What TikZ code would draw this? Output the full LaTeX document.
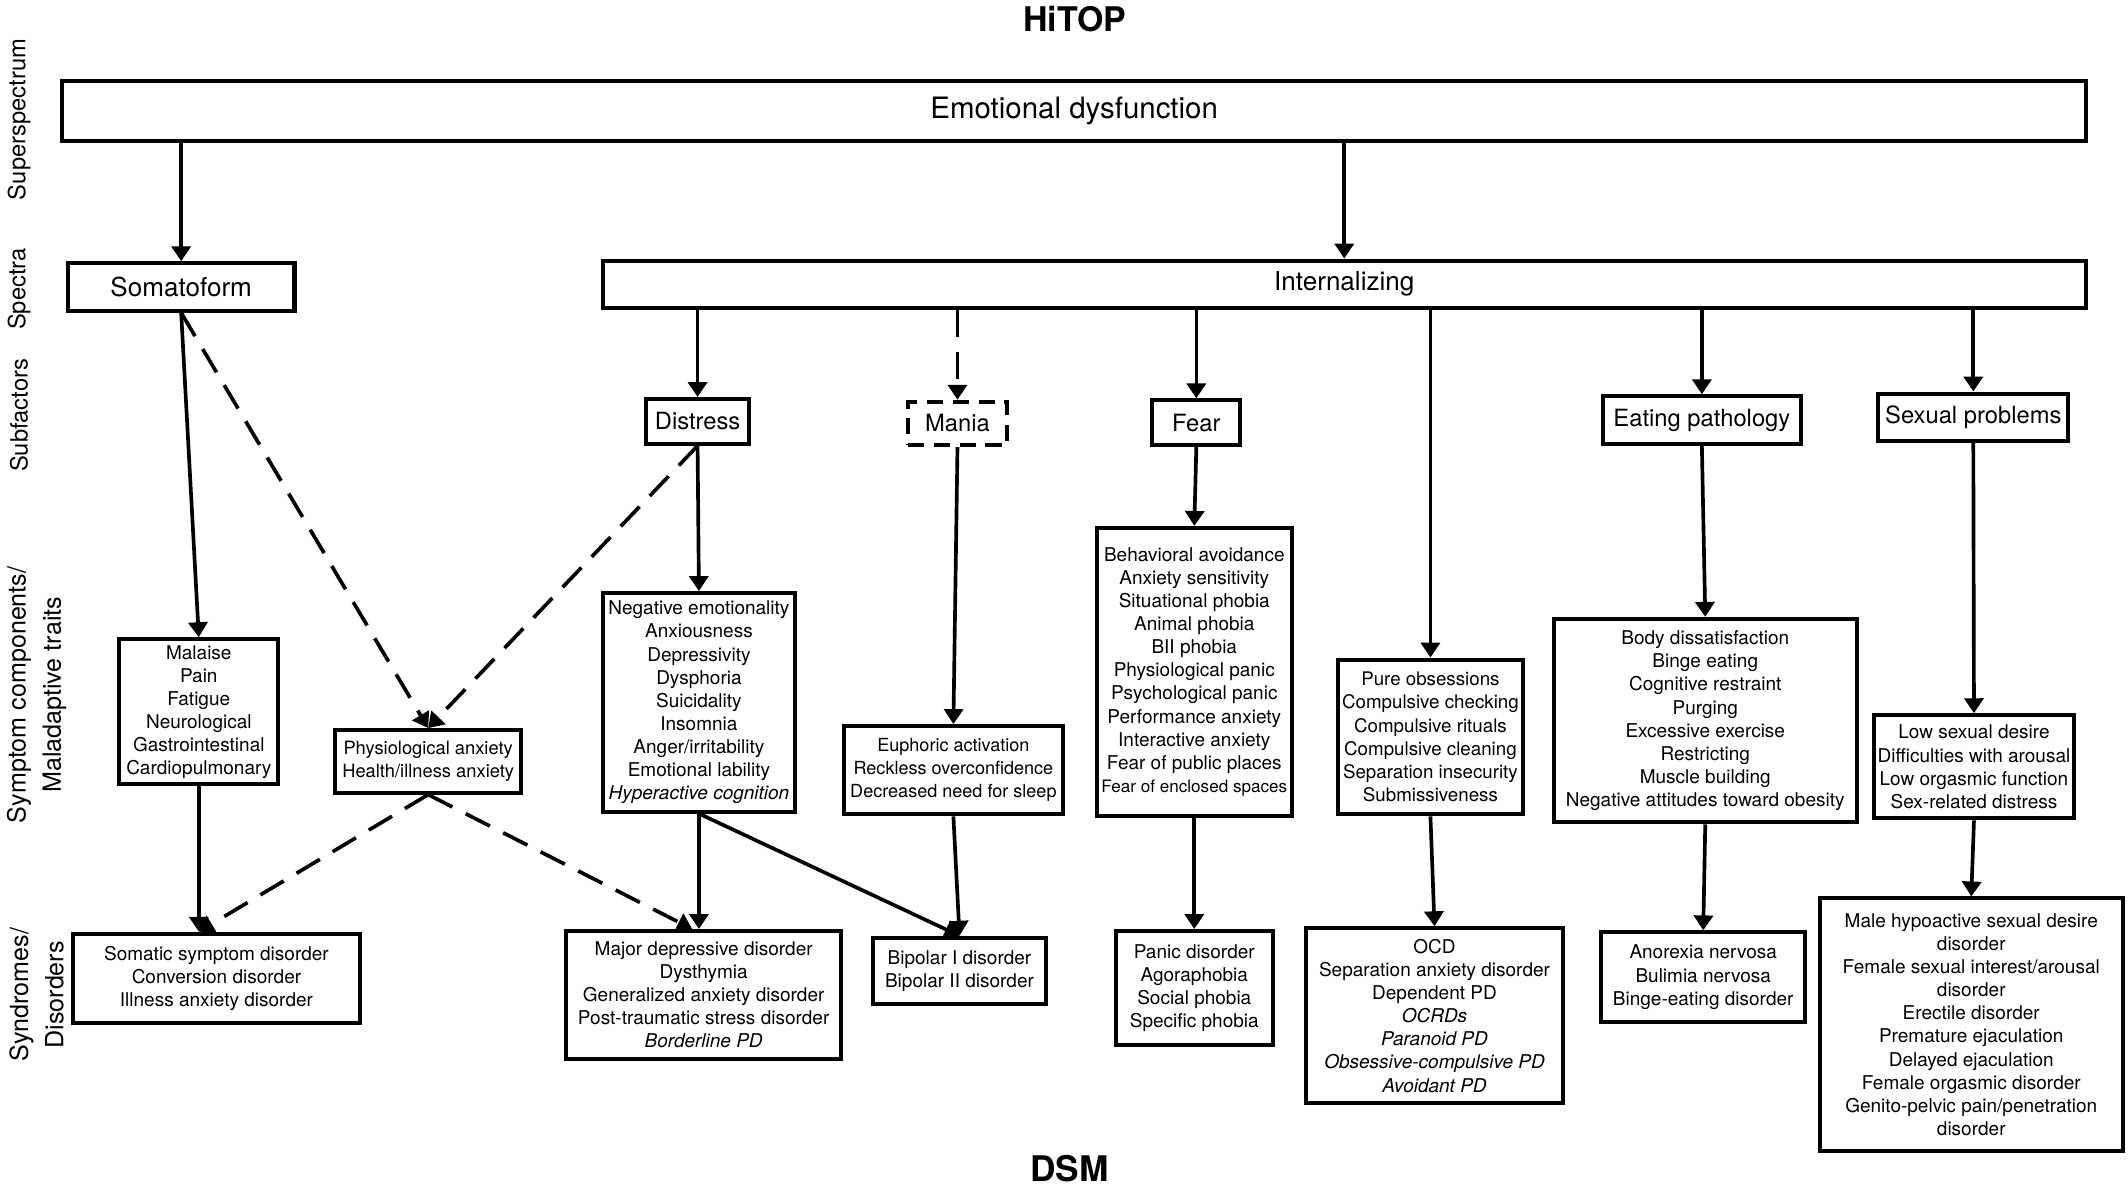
\documentclass[tikz,border=0pt]{standalone}
\usepackage{fontspec}
\setmainfont{TeX Gyre Heros}
\usetikzlibrary{arrows.meta}
\tikzset{
  box/.style={draw, line width=3pt, inner sep=0pt, align=center, font=\fontsize{14}{17}\selectfont},
  conn/.style={line width=2.7pt, -{Triangle[width=14pt,length=11pt]}},
  dconn/.style={conn, dash pattern=on 20pt off 11pt},
  lvl/.style={rotate=90, align=center, font=\fontsize{17.5}{26}\selectfont},
  lvlb/.style={lvl, font=\fontsize{18.5}{26}\selectfont},
  ttl/.style={font=\bfseries\fontsize{25}{28}\selectfont},
  sub/.style={font=\fontsize{17.5}{20}\selectfont},
}
\begin{document}
\begin{tikzpicture}[x=1pt,y=-1pt]
\useasboundingbox (0,0) rectangle (1568,876);
% titles
\node[ttl] (hitop) at (792,14) {HiTOP};
\node[ttl, font=\bfseries\fontsize{26}{28}\selectfont] (dsm) at (788,861) {DSM};
% level labels
\node[lvl] (l1) at (14,88) {Superspectrum};
\node[lvl] (l2) at (14,213) {Spectra};
\node[lvl] (l3) at (14,306) {Subfactors};
\node[lvlb] (l4) at (27,512) {Symptom components/\\Maladaptive traits};
\node[lvlb] (l5) at (27,733) {Syndromes/\\Disorders};
% superspectrum / spectra
\node[box, minimum width=1491pt, minimum height=44pt, font=\fontsize{21.7}{24}\selectfont] (ed) at (791.5,82) {Emotional dysfunction};
\node[box, minimum width=167pt, minimum height=35pt, font=\fontsize{19.2}{22}\selectfont] (soma) at (133.5,211.5) {Somatoform};
\node[box, minimum width=1093pt, minimum height=35pt, font=\fontsize{19.2}{22}\selectfont] (intern) at (990.5,209.5) {Internalizing};
% subfactors
\node[box, sub, minimum width=76pt, minimum height=33pt] (distress) at (514,310.5) {Distress};
\node[box, sub, minimum width=73pt, minimum height=32pt, dash pattern=on 12pt off 7pt] (mania) at (705.5,312) {Mania};
\node[box, sub, minimum width=65pt, minimum height=33pt] (fear) at (881.5,311.5) {Fear};
\node[box, sub, minimum width=146pt, minimum height=35pt] (eat) at (1254,309.5) {Eating pathology};
\node[box, sub, minimum width=140pt, minimum height=35pt] (sex) at (1454,307.5) {Sexual problems};
% symptom components
\node[box, minimum width=117pt, minimum height=107pt] (malaise) at (146.5,524.5) {Malaise\\Pain\\Fatigue\\Neurological\\Gastrointestinal\\Cardiopulmonary};
\node[box, minimum width=137pt, minimum height=46pt, font=\fontsize{13.5}{17}\selectfont] (phys) at (315.5,561) {Physiological anxiety\\Health/illness anxiety};
\node[box, minimum width=142pt, minimum height=161pt] (neg) at (515,517.5) {Negative emotionality\\Anxiousness\\Depressivity\\Dysphoria\\Suicidality\\Insomnia\\Anger/irritability\\Emotional lability\\\textit{Hyperactive cognition}};
\node[box, minimum width=161pt, minimum height=65pt, font=\fontsize{13.3}{17}\selectfont] (euph) at (702.5,567.5) {Euphoric activation\\Reckless overconfidence\\Decreased need for sleep};
\node[box, minimum width=144pt, minimum height=212pt] (fearbox) at (880,495) {Behavioral avoidance\\Anxiety sensitivity\\Situational phobia\\Animal phobia\\BII phobia\\Physiological panic\\Psychological panic\\Performance anxiety\\Interactive anxiety\\Fear of public places\\{\fontsize{12.6}{17}\selectfont Fear of enclosed spaces}};
\node[box, minimum width=136pt, minimum height=114pt, font=\fontsize{13.8}{17}\selectfont] (pure) at (1054,543) {Pure obsessions\\Compulsive checking\\Compulsive rituals\\Compulsive cleaning\\Separation insecurity\\Submissiveness};
\node[box, minimum width=223pt, minimum height=150pt] (body) at (1256.5,531) {Body dissatisfaction\\Binge eating\\Cognitive restraint\\Purging\\Excessive exercise\\Restricting\\Muscle building\\Negative attitudes toward obesity};
\node[box, minimum width=147pt, minimum height=76pt] (low) at (1454.5,565) {Low sexual desire\\Difficulties with arousal\\Low orgasmic function\\Sex-related distress};
% disorders
\node[box, minimum width=211pt, minimum height=66pt] (somatic) at (159.5,721) {Somatic symptom disorder\\Conversion disorder\\Illness anxiety disorder};
\node[box, minimum width=203pt, minimum height=94pt] (mdd) at (518.5,733) {Major depressive disorder\\Dysthymia\\Generalized anxiety disorder\\Post-traumatic stress disorder\\\textit{Borderline PD}};
\node[box, minimum width=128pt, minimum height=49pt] (bip) at (707,715.5) {Bipolar I disorder\\Bipolar II disorder};
\node[box, minimum width=116pt, minimum height=84pt] (panic) at (880,728) {Panic disorder\\Agoraphobia\\Social phobia\\Specific phobia};
\node[box, minimum width=190pt, minimum height=129pt] (ocd) at (1057,748.5) {OCD\\Separation anxiety disorder\\Dependent PD\\\textit{OCRDs}\\\textit{Paranoid PD}\\\textit{Obsessive-compulsive PD}\\\textit{Avoidant PD}};
\node[box, minimum width=150pt, minimum height=66pt] (anor) at (1255,720) {Anorexia nervosa\\Bulimia nervosa\\Binge-eating disorder};
\node[box, minimum width=223pt, minimum height=186pt] (male) at (1452.5,755) {Male hypoactive sexual desire\\disorder\\Female sexual interest/arousal\\disorder\\Erectile disorder\\Premature ejaculation\\Delayed ejaculation\\Female orgasmic disorder\\Genito-pelvic pain/penetration\\disorder};
% connectors
\draw[conn] (soma.north |- ed.south) -- (soma.north);
\draw[conn] (intern.north |- ed.south) -- (intern.north);
\draw[conn] (distress.north |- intern.south) -- (distress.north);
\draw[dconn] (mania.north |- intern.south) -- (mania.north);
\draw[conn] (fear.north |- intern.south) -- (fear.north);
\draw[conn] (pure.north |- intern.south) -- (pure.north);
\draw[conn] (eat.north |- intern.south) -- (eat.north);
\draw[conn] (sex.north |- intern.south) -- (sex.north);
\draw[conn] (soma.south) -- (malaise.north);
\draw[dconn] (soma.south) -- (phys.north);
\draw[dconn] (distress.south) -- (phys.north);
\draw[conn] (distress.south) -- (neg.north);
\draw[conn] (mania.south) -- (euph.north);
\draw[conn] (fear.south) -- (fearbox.north);
\draw[conn] (eat.south) -- (body.north);
\draw[conn] (sex.south) -- (low.north);
\coordinate (somin) at (malaise.south |- somatic.north);
\coordinate (mddin) at (neg.south |- mdd.north);
\draw[conn] (malaise.south) -- (somin);
\draw[dconn] (phys.south) -- (somin);
\draw[dconn] (phys.south) -- ([xshift=-5pt]mddin);
\draw[conn] (neg.south) -- (mddin);
\draw[conn] (neg.south) -- (bip.north);
\draw[conn] (euph.south) -- (bip.north);
\draw[conn] (fearbox.south) -- (panic.north);
\draw[conn] (pure.south) -- (ocd.north);
\draw[conn] (body.south) -- (anor.north);
\draw[conn] (low.south) -- (male.north);
\end{tikzpicture}
\end{document}
